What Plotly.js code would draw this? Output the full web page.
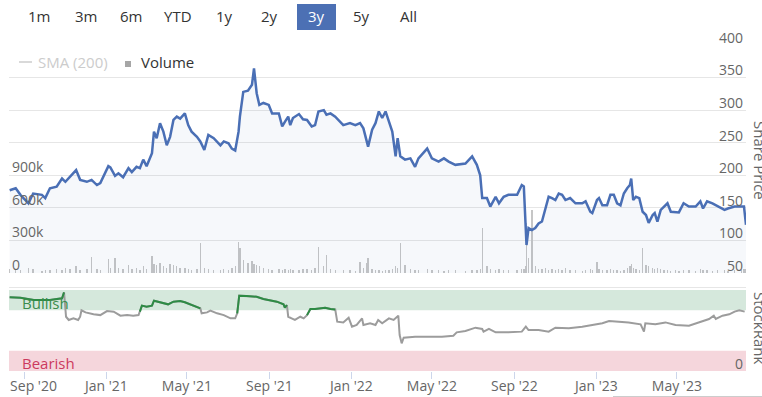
<!DOCTYPE html>
<html><head><meta charset="utf-8">
<script src="https://cdn.plot.ly/plotly-3.0.1.min.js"></script>
<style>html,body{margin:0;padding:0;background:#fff}#chart{width:762px;height:397px}</style>
</head><body><div id="chart"></div><script>
// ---- data ----
const priceDates = ['2020-08-10','2020-08-19','2020-08-26','2020-09-07','2020-09-14','2020-09-27','2020-10-02','2020-10-09','2020-10-19','2020-10-27','2020-11-01','2020-11-08','2020-11-17','2020-11-23','2020-12-03','2020-12-10','2020-12-18','2020-12-23',
'2021-01-04','2021-01-07','2021-01-14','2021-01-19','2021-01-26','2021-02-03','2021-02-08','2021-02-15','2021-02-20','2021-02-25','2021-03-02','2021-03-10','2021-03-13','2021-03-17','2021-03-22','2021-03-27','2021-04-01','2021-04-06','2021-04-11','2021-04-16','2021-04-21','2021-04-28','2021-05-03','2021-05-08','2021-05-16','2021-05-21','2021-05-27','2021-06-02','2021-06-10','2021-06-20','2021-06-25','2021-07-02','2021-07-07','2021-07-12','2021-07-17','2021-07-19','2021-07-24','2021-07-31','2021-08-06','2021-08-09','2021-08-13','2021-08-17','2021-08-23','2021-08-31','2021-09-05','2021-09-15','2021-09-20','2021-09-24','2021-09-29','2021-10-02','2021-10-06','2021-10-15','2021-10-21','2021-10-27','2021-11-03','2021-11-08','2021-11-13','2021-11-21','2021-11-25','2021-12-01','2021-12-08','2021-12-20','2021-12-30',
'2022-01-07','2022-01-14','2022-01-19','2022-01-24','2022-01-26','2022-02-01','2022-02-06','2022-02-11','2022-02-16','2022-02-21','2022-02-26','2022-03-03','2022-03-08','2022-03-11','2022-03-15','2022-03-22','2022-03-30','2022-04-06','2022-04-11','2022-04-24','2022-05-01','2022-05-11','2022-05-19','2022-05-26','2022-06-05','2022-06-20','2022-06-30','2022-07-07','2022-07-12','2022-07-15','2022-07-22','2022-07-27','2022-08-04','2022-08-09','2022-08-16','2022-08-23','2022-09-05','2022-09-12','2022-09-15','2022-09-17','2022-09-19','2022-09-22','2022-09-27','2022-10-02','2022-10-07','2022-10-12','2022-10-17','2022-10-22','2022-10-27','2022-11-01','2022-11-06','2022-11-11','2022-11-16','2022-11-23','2022-12-01','2022-12-11','2022-12-16','2022-12-23','2022-12-26',
'2023-01-02','2023-01-05','2023-01-10','2023-01-17','2023-01-22','2023-01-27','2023-02-01','2023-02-06','2023-02-11','2023-02-16','2023-02-20','2023-02-22','2023-02-25','2023-03-01','2023-03-06','2023-03-11','2023-03-16','2023-03-20','2023-03-26','2023-03-29','2023-04-02','2023-04-07','2023-04-12','2023-04-17','2023-04-22','2023-04-29','2023-05-04','2023-05-11','2023-05-19','2023-05-29','2023-06-05','2023-06-09','2023-06-15','2023-06-23','2023-07-01','2023-07-11','2023-07-16','2023-07-26','2023-08-05','2023-08-09','2023-08-12'];
const sharePrice = [177,180,170,157,172,170,165,180,182.5,195,190,198,208,193,190,193,185,188,
214,212,199,203,197,211,205,213,211,224,214,234,267,257,280,267,246,259,285,290,287,295,277,267,259,252,239,262,257,246,252,249,241,238,267,290,328,330,339,364,326,308,311,308,295,295,275,282,290,277,288,294,286,285,275,277,298,300,293,295,290,277,280,
277,280,272,249,244,270,280,298,288,298,282,267,229,257,229,224,226,213,226,241,226,221,226,221,216,218,229,216,200,165,165,152,167,157,167,170,170,185,183,147,93,119,116,119,126,129,147,167,165,162,172,170,162,165,157,157,160,144,142,
162,165,154,154,170,170,157,154,172,180,185,195,162,167,165,144,139,127,139,142,129,147,152,157,144,144,143,157,152,152,160,149,160,157,152,147,149,152,152,152,124];
// volume in thousands of shares
const volume = [40,30,25,45,35,20,30,25,40,30,45,35,60,30,40,150,35,30,
129,45,138,50,40,70,35,45,30,60,40,157,80,70,90,60,50,80,70,60,50,45,35,30,40,273,50,35,30,25,40,30,45,60,288,230,120,90,110,80,70,60,50,40,30,35,25,40,30,35,25,30,40,35,30,50,242,60,166,40,30,25,30,
20,104,50,90,138,40,30,25,20,30,25,35,60,50,273,70,40,30,25,35,30,25,20,30,25,20,25,30,40,412,60,40,30,35,25,30,25,40,35,60,460,138,580,60,40,35,45,30,35,25,40,30,45,25,30,20,25,35,30,
104,40,30,25,35,30,25,20,30,45,60,80,50,40,30,227,70,60,45,35,50,40,30,25,20,25,20,30,25,20,35,30,25,20,25,30,20,25,30,35,40];
const rankDates = ['2020-08-10','2020-08-26','2020-09-15','2020-10-09','2020-10-27','2020-10-30','2020-11-02','2020-11-06','2020-11-13','2020-11-20','2020-11-23','2020-11-25','2020-12-01','2020-12-13','2020-12-23',
'2021-01-02','2021-01-12','2021-01-22','2021-02-01','2021-02-10','2021-02-18','2021-02-20','2021-02-23','2021-03-02','2021-03-10','2021-03-13','2021-03-20','2021-03-27','2021-04-03','2021-04-11','2021-04-21','2021-04-28','2021-05-06','2021-05-16','2021-05-21','2021-05-23','2021-05-31','2021-06-05','2021-06-15','2021-06-25','2021-07-05','2021-07-12','2021-07-15','2021-07-18','2021-07-29','2021-08-13','2021-08-23','2021-09-02','2021-09-12','2021-09-22','2021-09-24','2021-09-27','2021-09-29','2021-10-04','2021-10-09','2021-10-17','2021-10-22','2021-10-27','2021-11-01','2021-11-08','2021-11-16','2021-11-23','2021-12-01','2021-12-08','2021-12-11','2021-12-20','2021-12-28',
'2022-01-02','2022-01-09','2022-01-17','2022-01-19','2022-01-29','2022-02-06','2022-02-10','2022-02-16','2022-02-26','2022-03-05','2022-03-12','2022-03-14','2022-03-17','2022-03-20','2022-04-06','2022-04-26','2022-05-16','2022-06-02','2022-06-07','2022-06-20','2022-07-05','2022-07-15','2022-07-17','2022-07-25','2022-08-04','2022-08-23','2022-09-12','2022-09-18','2022-09-22','2022-10-07','2022-10-22','2022-11-01','2022-11-21','2022-12-11','2022-12-31',
'2023-01-10','2023-01-20','2023-01-30','2023-02-18','2023-03-08','2023-03-13','2023-03-15','2023-03-30','2023-04-14','2023-04-29','2023-05-19','2023-06-03','2023-06-18','2023-06-25','2023-06-28','2023-07-08','2023-07-18','2023-07-26','2023-08-02','2023-08-10'];
const stockRank = [91,90.5,87.7,87.7,89.8,97,67,63,65,63,67,75,72.4,70,69,
74,73.3,68.3,69,68.3,69,73.3,80.7,79.4,80.7,86.8,85.6,83.5,82.3,85.6,86.4,84.8,82.3,79.4,77.4,71.2,72.4,74.5,71.2,69,65,65,71.2,93,92.6,91.7,88.9,87.7,85.6,82.3,78.2,81.5,67,65,63,67,65,69,76.5,76.5,77.4,78.2,76.5,76,60.9,60,65.8,
54.7,56.8,65,56.8,58.9,56.8,63,58.9,65,63,68.3,44.4,34.2,41.1,42.3,42.3,42.3,43.6,47.7,49.4,53.5,51.9,48.6,51.9,47.7,47.7,48.6,54.7,50.6,50.6,48.6,53.5,52.7,54.7,57.6,
58.9,61.7,60.9,60,57.6,48.6,58.9,57.6,60,56.8,55.9,60,64.2,68.3,64.2,68.3,70,73.3,75,73.3];
const bullishLevel = 76;
const xTickVals = ['2020-09-01','2021-01-01','2021-05-01','2021-09-01','2022-01-01','2022-05-01','2022-09-01','2023-01-01','2023-05-01'];
const xTickText = ["\u00a0\u00a0\u00a0\u00a0\u00a0Sep '20","Jan '21","May '21","Sep '21","Jan '22","May '22","Sep '22","Jan '23","May '23"];
const priceTicks = [50,100,150,200,250,300,350,400];
const volTickVals = [0,300,600,900];
const volTickText = ['0','300k','600k','900k'];
const rangeButtons = ['1m','3m','6m','YTD','1y','2y','3y','5y','All'];
const selectedButton = '3y';

// ---- layout helpers ----
const W = 762, H = 397;
const px = x => x / W, py = y => (H - y) / H;
const buttonCenters = [39, 85.5, 131, 178, 224, 269, 316, 361.5, 408];

// green segments: keep a point when it, or the next point, is in the bullish zone
const greenRank = stockRank.map((v, i) =>
  (v >= bullishLevel || (i + 1 < stockRank.length && stockRank[i + 1] >= bullishLevel)) ? v : null);

const DAY = 86400000;
const traces = [
  {type:'bar', x:priceDates, y:volume, yaxis:'y', marker:{color:'#c6c6c6', line:{width:0}},
   width:2*DAY, hoverinfo:'skip'},
  {type:'scatter', mode:'lines', x:priceDates, y:sharePrice, yaxis:'y2',
   line:{color:'#4a6fb5', width:2.5}, fill:'tozeroy', fillcolor:'rgba(74,111,181,0.05)'},
  {type:'scatter', mode:'lines', x:rankDates, y:stockRank, yaxis:'y3',
   line:{color:'#9c9c9c', width:2}},
  {type:'scatter', mode:'lines', x:rankDates, y:greenRank, yaxis:'y3', connectgaps:false,
   line:{color:'#2e8b45', width:2}}
];

const fontFam = '"Open Sans", sans-serif';
const annotations = [];
rangeButtons.forEach((b, i) => {
  annotations.push({xref:'paper', yref:'paper', x:px(buttonCenters[i]), y:py(16.5), xanchor:'center', yanchor:'middle',
    text:b, showarrow:false, font:{family:fontFam, size:15, color: b === selectedButton ? '#ffffff' : '#333333'}});
});
annotations.push(
  {xref:'paper', yref:'paper', x:px(36), y:py(62), xanchor:'left', yanchor:'middle', text:'SMA (200)', showarrow:false, font:{family:fontFam, size:15, color:'#cccccc'}},
  {xref:'paper', yref:'paper', x:px(139), y:py(62), xanchor:'left', yanchor:'middle', text:'Volume', showarrow:false, font:{family:fontFam, size:15, color:'#333333'}},
  {xref:'paper', yref:'paper', x:px(20), y:py(303), xanchor:'left', yanchor:'middle', text:'Bullish', showarrow:false, font:{family:fontFam, size:15, color:'#3a8c4c'}},
  {xref:'paper', yref:'paper', x:px(20), y:py(363), xanchor:'left', yanchor:'middle', text:'Bearish', showarrow:false, font:{family:fontFam, size:15, color:'#cc3a5e'}},
  {xref:'paper', yref:'paper', x:px(760), y:py(160), xanchor:'center', yanchor:'middle', textangle:90, text:'Share Price', showarrow:false, font:{family:fontFam, size:15, color:'#666666'}},
  {xref:'paper', yref:'paper', x:px(760), y:py(328), xanchor:'center', yanchor:'middle', textangle:90, text:'StockRank', showarrow:false, font:{family:fontFam, size:15, color:'#666666'}}
);

const bx0 = px(297), bx1 = px(336), by0 = py(30), by1 = py(4);
const shapes = [
  {type:'rect', xref:'paper', yref:'y3', x0:px(9), x1:px(746), y0:75, y1:100, fillcolor:'#d5e8dc', line:{width:0}, layer:'below'},
  {type:'rect', xref:'paper', yref:'y3', x0:px(9), x1:px(746), y0:0, y1:25, fillcolor:'#f5d6dc', line:{width:0}, layer:'below'},
  {type:'line', xref:'paper', yref:'paper', x0:px(9), x1:px(746), y0:py(287.5), y1:py(287.5), line:{color:'#e6e6e6', width:1}},
  {type:'rect', xref:'paper', yref:'paper', x0:bx0, x1:bx1, y0:by0, y1:by1, fillcolor:'#4c70b4', line:{width:0}, layer:'below'},
  {type:'line', xref:'paper', yref:'paper', x0:px(19), x1:px(32), y0:py(62), y1:py(62), line:{color:'#cccccc', width:1.5}},
  {type:'rect', xref:'paper', yref:'paper', x0:px(125), x1:px(131), y0:py(67), y1:py(61), fillcolor:'#a6a6a6', line:{width:0}},
  {type:'line', xref:'paper', yref:'paper', x0:px(613), x1:px(762), y0:py(396.5), y1:py(396.5), line:{color:'#cccccc', width:1}}
];

const tickFont = {family:fontFam, size:14, color:'#666666'};
const layout = {
  width:W, height:H, margin:{l:0, r:0, t:0, b:0},
  paper_bgcolor:'#ffffff', plot_bgcolor:'rgba(0,0,0,0)', showlegend:false,
  font:{family:fontFam, size:14, color:'#666666'},
  xaxis:{domain:[px(9), px(746)], type:'date', range:['2020-08-09','2023-08-12'], anchor:'y3',
    tickmode:'array', tickvals:xTickVals, ticktext:xTickText, ticks:'outside', ticklen:7, tickcolor:'#ccd6eb',
    ticklabelstandoff:-5, ticklabeloverflow:'allow',
    showgrid:false, zeroline:false, showline:false, tickfont:tickFont, fixedrange:true},
  yaxis:{domain:[py(273), py(45)], range:[0,2100], side:'left', anchor:'x',
    tickmode:'array', tickvals:volTickVals, ticktext:volTickText, ticklabelposition:'inside', ticklabelshift:-8,
    ticklabeloverflow:'allow',
    showgrid:false, zeroline:false, showline:false, ticks:'', tickfont:tickFont, fixedrange:true},
  yaxis2:{overlaying:'y', side:'right', anchor:'x', range:[50,400],
    tickmode:'array', tickvals:priceTicks, ticklabelposition:'inside', ticklabelshift:-7,
    ticklabeloverflow:'allow',
    showgrid:true, gridcolor:'#e6e6e6', gridwidth:1, zeroline:false, showline:false, ticks:'', tickfont:tickFont, fixedrange:true},
  yaxis3:{domain:[py(371), py(290)], range:[0,100], side:'right', anchor:'x',
    tickmode:'array', tickvals:[0], ticklabelposition:'inside', ticklabelshift:-7,
    ticklabeloverflow:'allow',
    showgrid:false, zeroline:false, showline:false, ticks:'', tickfont:tickFont, fixedrange:true},
  shapes:shapes, annotations:annotations, bargap:0
};

Plotly.newPlot('chart', traces, layout, {displayModeBar:false, staticPlot:true});
</script></body></html>
